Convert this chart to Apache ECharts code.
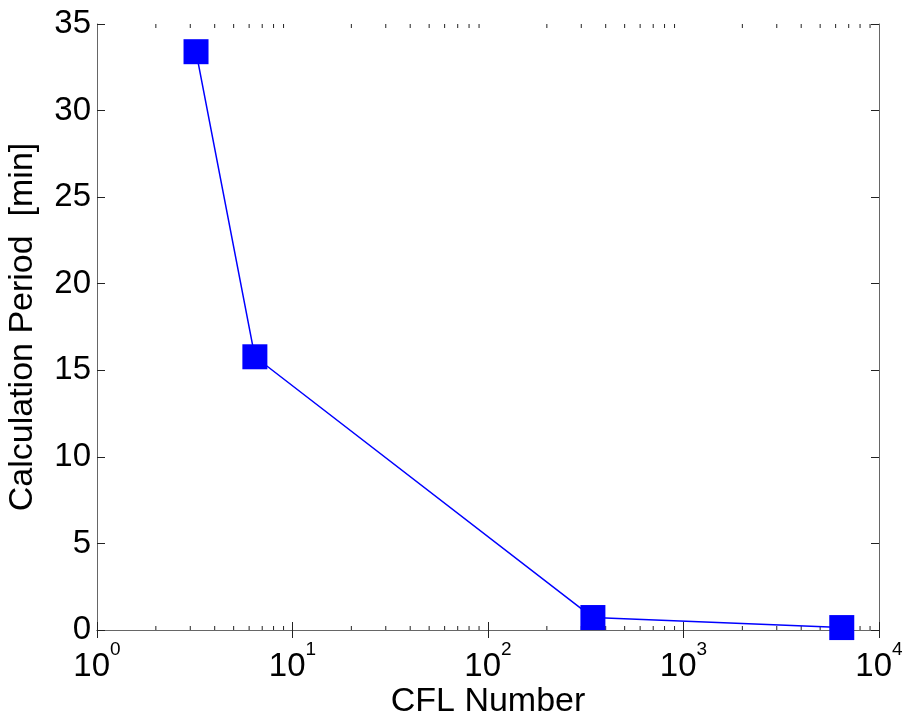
<!DOCTYPE html>
<html>
<head>
<meta charset="utf-8">
<script src="https://cdn.jsdelivr.net/npm/echarts@6/dist/echarts.min.js"></script>
<style>
  html, body { margin: 0; padding: 0; background: #fff; }
  #chart { width: 907px; height: 718px; }
</style>
</head>
<body>
<div id="chart"></div>
<script>
// CFL number vs. calculation period
const cflNumbers = [3.21, 6.42, 344, 6450];
const calcPeriodMin = [33.4, 15.78, 0.72, 0.14];

const xMin = 1, xMax = 10000;
const yMin = 0, yMax = 35, yStep = 5;

// decade ticks (labelled as powers of ten) and minor log ticks 2..9
const decadeTicks = [1, 10, 100, 1000, 10000];
const minorTickValues = [];
for (let d = xMin; d < xMax; d *= 10) {
  for (let k = 2; k <= 9; k++) minorTickValues.push([k * d, 0]);
}

const FONT = 'Liberation Sans, Arial, Helvetica, sans-serif';
const AXIS_COLOR = '#666';
const TICK_COLOR = '#222';

const chart = echarts.init(document.getElementById('chart'), null, { renderer: 'canvas' });

const option = {
  backgroundColor: '#fff',
  animation: false,
  grid: { left: 97, right: 28, top: 24, bottom: 88, containLabel: false, outerBoundsMode: 'none' },
  xAxis: [
    {
      type: 'log', logBase: 10, min: xMin, max: xMax, position: 'bottom',
      name: 'CFL Number', nameLocation: 'middle', nameGap: 55,
      nameTextStyle: { fontFamily: FONT, fontSize: 34, color: '#000' },
      axisLine: { show: true, lineStyle: { color: AXIS_COLOR, width: 1 } },
      axisTick: { show: true, inside: true, length: 8, lineStyle: { color: TICK_COLOR } },
      splitLine: { show: false },
      axisLabel: { show: false }
    },
    {
      type: 'log', logBase: 10, min: xMin, max: xMax, position: 'top',
      axisLine: { show: true, lineStyle: { color: AXIS_COLOR, width: 1 } },
      axisTick: { show: true, inside: true, length: 8, lineStyle: { color: TICK_COLOR } },
      axisLabel: { show: false }, splitLine: { show: false }
    }
  ],
  yAxis: [
    {
      type: 'value', min: yMin, max: yMax, interval: yStep, position: 'left',
      name: 'Calculation Period  [min]', nameLocation: 'middle', nameGap: 57,
      nameTextStyle: { fontFamily: FONT, fontSize: 34, color: '#000' },
      axisLine: { show: true, lineStyle: { color: AXIS_COLOR, width: 1 } },
      axisTick: { show: true, inside: true, length: 8, lineStyle: { color: TICK_COLOR } },
      splitLine: { show: false },
      axisLabel: { margin: 6, fontFamily: FONT, fontSize: 33, color: '#000' }
    },
    {
      type: 'value', min: yMin, max: yMax, interval: yStep, position: 'right',
      axisLine: { show: true, lineStyle: { color: AXIS_COLOR, width: 1 } },
      axisTick: { show: true, inside: true, length: 8, lineStyle: { color: TICK_COLOR } },
      axisLabel: { show: false }, splitLine: { show: false }
    }
  ],
  series: [
    {
      // minor log ticks on bottom and top frame
      type: 'custom',
      silent: true,
      clip: false,
      xAxisIndex: 0, yAxisIndex: 0,
      data: minorTickValues,
      renderItem: function (params, api) {
        const p = api.coord([api.value(0), 0]);
        const cs = params.coordSys;
        const style = { stroke: TICK_COLOR, lineWidth: 1 };
        return {
          type: 'group',
          children: [
            { type: 'line', shape: { x1: p[0], y1: cs.y + cs.height, x2: p[0], y2: cs.y + cs.height - 4 }, style: style },
            { type: 'line', shape: { x1: p[0], y1: cs.y, x2: p[0], y2: cs.y + 4 }, style: style }
          ]
        };
      },
      z: 1
    },
    {
      // decade labels written as 10 with a raised exponent
      type: 'custom',
      silent: true,
      clip: false,
      xAxisIndex: 0, yAxisIndex: 0,
      data: decadeTicks.map(v => [v, 0]),
      renderItem: function (params, api) {
        const v = api.value(0);
        const p = api.coord([v, 0]);
        const cs = params.coordSys;
        const base = cs.y + cs.height;
        const e = Math.round(Math.log10(v));
        return {
          type: 'group',
          children: [
            { type: 'text', x: p[0] + 13, y: base + 37,
              style: { text: '10', fontFamily: FONT, fontSize: 33, fill: '#000', align: 'right', verticalAlign: 'middle' } },
            { type: 'text', x: p[0] + 13, y: base + 20,
              style: { text: String(e), fontFamily: FONT, fontSize: 19, fill: '#000', align: 'left', verticalAlign: 'middle' } }
          ]
        };
      },
      z: 2
    },
    {
      type: 'line',
      xAxisIndex: 0, yAxisIndex: 0,
      data: cflNumbers.map((x, i) => [x, calcPeriodMin[i]]),
      symbol: 'rect',
      symbolSize: 25,
      showSymbol: true,
      clip: false,
      lineStyle: { color: '#0000ff', width: 1.5 },
      itemStyle: { color: '#0000ff', borderWidth: 0 },
      z: 3
    }
  ]
};

chart.setOption(option);
</script>
</body>
</html>
